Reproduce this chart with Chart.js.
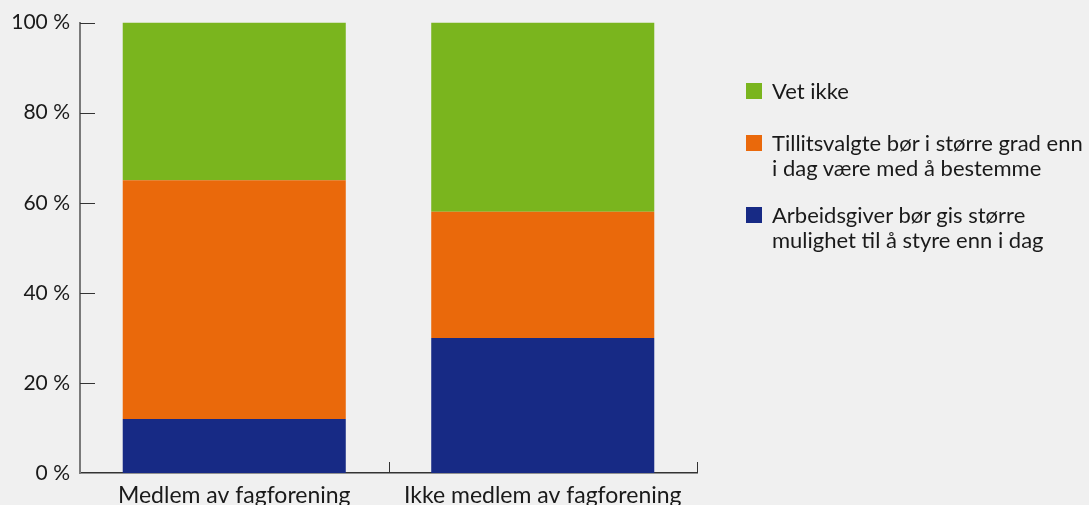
<!DOCTYPE html>
<html>
<head>
<meta charset="utf-8">
<script src="https://cdn.jsdelivr.net/npm/chart.js@4"></script>
<style>
  html, body { margin: 0; padding: 0; background: #f0f0f0; }
  #wrap { position: relative; width: 1089px; height: 505px; overflow: hidden; }
  #legend { position: absolute; left: 746px; top: 78px; font-family: Lato, sans-serif; font-size: 22px; color: #1a1a1a; line-height: 25px; white-space: nowrap; }
  .item { position: relative; padding-left: 26px; }
  .box { position: absolute; left: 0; top: 5px; width: 16px; height: 16px; }
</style>
</head>
<body>
<div id="wrap">
  <canvas id="chart" width="1089" height="505"></canvas>
  <div id="legend"></div>
</div>
<script>
// categories and series (percent)
const categories = ['Medlem av fagforening', 'Ikke medlem av fagforening'];
const arbeidsgiver = [12, 30];
const tillitsvalgte = [53, 28];
const vetIkke = [35, 42];
const yTicks = [0, 20, 40, 60, 80, 100];

const legendItems = [
    { label: 'Vet ikke', color: '#7ab51e', gap: 0 },
    { label: 'Tillitsvalgte bør i større grad enn<br>i dag være med å bestemme', color: '#ea690b', gap: 27 },
    { label: 'Arbeidsgiver bør gis større<br>mulighet til å styre enn i dag', color: '#172a85', gap: 22 }
];

// inward tick marks like the original
const tickMarks = {
    id: 'tickMarks',
    afterDraw(chart) {
        const ctx = chart.ctx;
        const x = chart.scales.x, y = chart.scales.y;
        const area = chart.chartArea;
        ctx.save();
        ctx.lineWidth = 1;
        ctx.strokeStyle = '#333';
        yTicks.forEach(v => {
            if (v === 0) return;
            const py = Math.round(y.getPixelForValue(v)) + 0.5;
            ctx.beginPath();
            ctx.moveTo(area.left, py);
            ctx.lineTo(area.left + 15, py);
            ctx.stroke();
        });
        categories.forEach((c, i) => {
            const px = i < categories.length - 1
                ? (x.getPixelForValue(i) + x.getPixelForValue(i + 1)) / 2
                : area.right;
            const rx = Math.round(px) + 0.5;
            ctx.beginPath();
            ctx.moveTo(rx, area.bottom);
            ctx.lineTo(rx, area.bottom - 11);
            ctx.stroke();
        });
        ctx.restore();
    }
};

new Chart(document.getElementById('chart'), {
    type: 'bar',
    data: {
        labels: categories,
        datasets: [
            { label: 'Arbeidsgiver', data: arbeidsgiver, backgroundColor: '#172a85' },
            { label: 'Tillitsvalgte', data: tillitsvalgte, backgroundColor: '#ea690b' },
            { label: 'Vet ikke', data: vetIkke, backgroundColor: '#7ab51e' }
        ]
    },
    options: {
        responsive: false,
        animation: false,
        layout: { padding: { top: 16, right: 392, left: 0, bottom: 0 } },
        datasets: { bar: { categoryPercentage: 1, barPercentage: 0.723 } },
        plugins: { legend: { display: false }, tooltip: { enabled: false } },
        scales: {
            x: {
                stacked: true,
                grid: { display: false, drawTicks: false },
                border: { display: true, color: '#333', width: 1.5 },
                ticks: { padding: 9, color: '#1a1a1a', font: { family: 'Lato', size: 23 } },
                afterFit(scale) { scale.height = 32; }
            },
            y: {
                stacked: true,
                min: 0,
                max: 100,
                afterBuildTicks(scale) { scale.ticks = yTicks.map(v => ({ value: v })); },
                grid: { display: false, drawTicks: false },
                border: { display: true, color: '#7a7a7a', width: 2 },
                ticks: {
                    padding: 10,
                    color: '#1a1a1a',
                    font: { family: 'Lato', size: 21 },
                    callback: v => v + ' %'
                },
                afterFit(scale) { scale.width = 80; }
            }
        }
    },
    plugins: [tickMarks]
});

const legend = document.getElementById('legend');
legendItems.forEach(it => {
    legend.insertAdjacentHTML('beforeend',
        `<div class="item" style="margin-top:${it.gap}px"><span class="box" style="background:${it.color}"></span>${it.label}</div>`);
});
</script>
</body>
</html>
